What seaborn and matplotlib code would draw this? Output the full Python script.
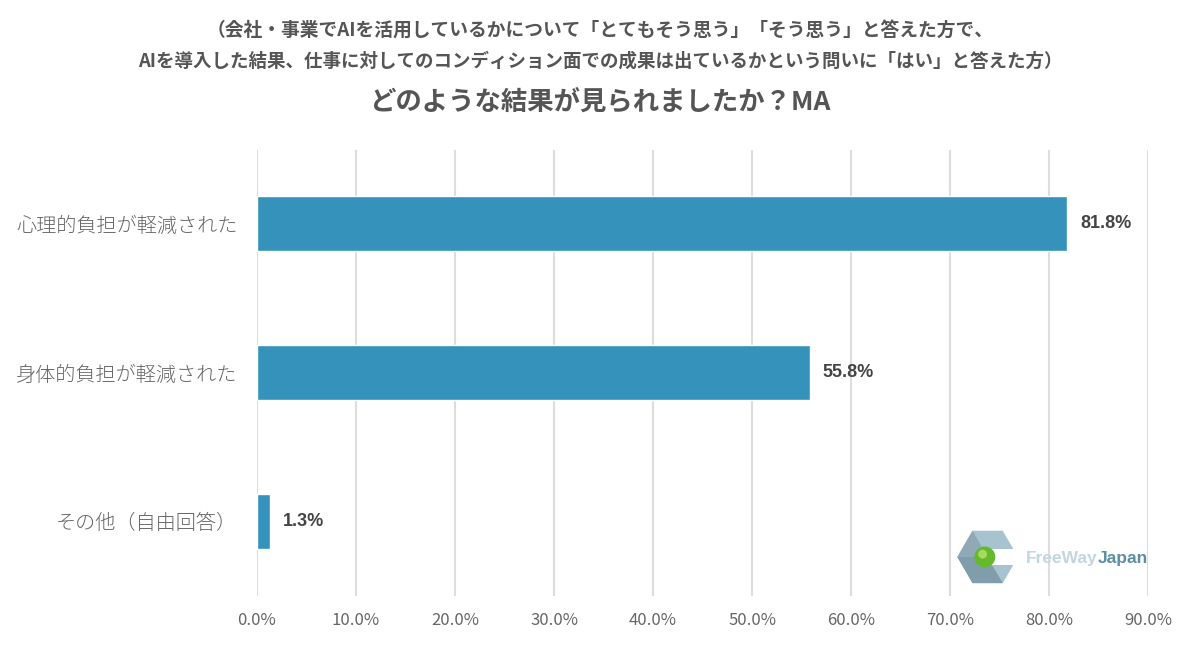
import matplotlib
matplotlib.use('Agg')
import matplotlib.pyplot as plt
from matplotlib.patches import RegularPolygon, Circle, Rectangle, Polygon
import seaborn as sns
import pandas as pd

# data
categories = ['心理的負担が軽減された', '身体的負担が軽減された', 'その他（自由回答）']
values = [81.8, 55.8, 1.3]
ticks = [0, 10, 20, 30, 40, 50, 60, 70, 80, 90]

df = pd.DataFrame({'category': categories, 'value': values})

sns.set_theme(style='white')
plt.rcParams['font.family'] = ['Noto Sans CJK JP', 'DejaVu Sans']

fig = plt.figure(figsize=(12, 6.48), dpi=100)
ax = fig.add_axes([0.214, 0.081, 0.743, 0.688])

sns.barplot(data=df, x='value', y='category', color='#3592bb', saturation=1,
            width=0.37, ax=ax, zorder=3)

ax.set_xlim(0, 90)
ax.set_ylim(2.5, -0.5)
ax.set_xticks(ticks)
ax.set_xticklabels([f'{t:.1f}%' for t in ticks], fontsize=12, color='#666666')
ax.tick_params(axis='x', length=0, pad=12)
ax.tick_params(axis='y', length=0, pad=14)
for lbl in ax.get_yticklabels():
    lbl.set_fontsize(14.5)
    lbl.set_color('#666666')
    lbl.set_fontweight('light')
ax.set_xlabel('')
ax.set_ylabel('')
ax.grid(axis='x', color='#dddddd', linewidth=1.5, zorder=0)
for s in ax.spines.values():
    s.set_visible(False)

for i, v in enumerate(values):
    ax.text(v + 1.3, i, f'{v}%', va='center', ha='left', fontsize=13,
            fontweight='bold', color='#444444', family=['Liberation Sans', 'DejaVu Sans'])

# titles
fig.text(0.5, 0.953, '（会社・事業でAIを活用しているかについて「とてもそう思う」「そう思う」と答えた方で、',
         ha='center', va='center', fontsize=13.5, fontweight='bold', color='#555555')
fig.text(0.5, 0.906, 'AIを導入した結果、仕事に対してのコンディション面での成果は出ているかという問いに「はい」と答えた方）',
         ha='center', va='center', fontsize=13.3, fontweight='bold', color='#555555')
fig.text(0.5, 0.843, 'どのような結果が見られましたか？MA',
         ha='center', va='center', fontsize=19, fontweight='bold', color='#555555')

# logo mark
lax = fig.add_axes([0.795, 0.098, 0.056, 0.085])
lax.set_xlim(-1.2, 1.2)
lax.set_ylim(-1.0, 1.0)
lax.set_aspect('equal')
lax.axis('off')
lax.add_patch(RegularPolygon((0, 0), 6, radius=1.1, orientation=3.14159 / 6,
                             facecolor='#a8c3d0', edgecolor='none'))
lax.add_patch(Polygon([(-1.1, 0), (-0.55, -0.95), (0.55, -0.95), (0.2, -0.35), (-0.3, 0)],
                      facecolor='#7f9dab', edgecolor='none'))
lax.add_patch(Polygon([(-1.1, 0), (-0.55, 0.95), (-0.2, 0.35), (-0.3, 0)],
                      facecolor='#8fa9b6', edgecolor='none'))
lax.add_patch(Rectangle((0.05, -0.3), 1.2, 0.6, facecolor='white', edgecolor='none'))
lax.add_patch(Circle((-0.1, 0), 0.38, facecolor='#66b82c', edgecolor='none'))
lax.add_patch(Circle((-0.18, 0.1), 0.16, facecolor='#a6dc5a', edgecolor='none'))

# logo text
fig.canvas.draw()
t1 = fig.text(0.855, 0.138, 'FreeWay', ha='left', va='center', fontsize=12.5, fontweight='bold',
              color='#c2d6df', family=['Liberation Sans', 'DejaVu Sans'])
bb = t1.get_window_extent(renderer=fig.canvas.get_renderer())
fig.text(bb.x1 / fig.bbox.width, 0.138, 'Japan', ha='left', va='center', fontsize=12.5,
         fontweight='bold', color='#5d8ea1', family=['Liberation Sans', 'DejaVu Sans'])

fig.savefig('out.png', dpi=100, facecolor='white')
